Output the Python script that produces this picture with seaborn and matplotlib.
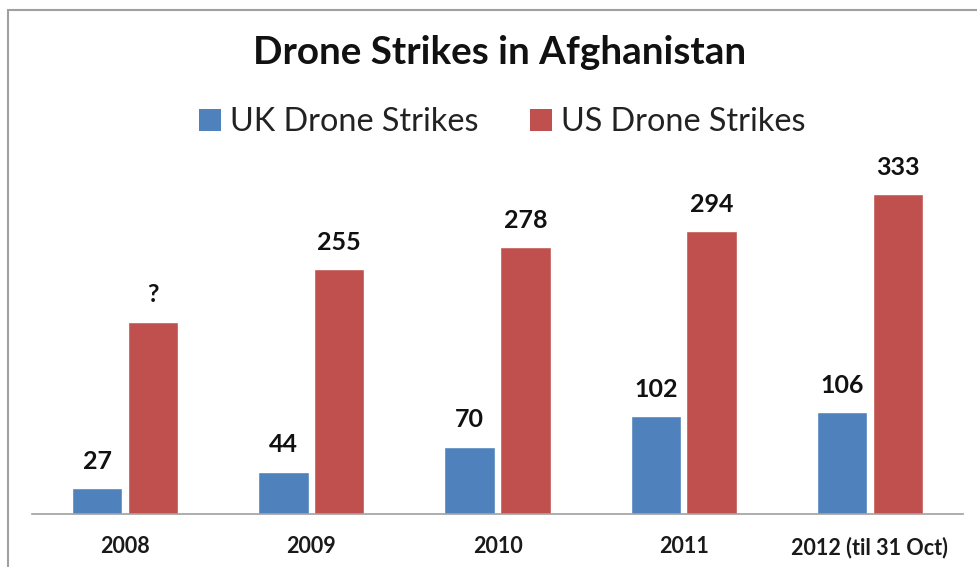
import matplotlib
matplotlib.use("Agg")
import matplotlib.pyplot as plt
import seaborn as sns
import pandas as pd
from matplotlib.patches import Rectangle, Patch

years = ["2008", "2009", "2010", "2011", "2012 (til 31 Oct)"]
uk_values = [27, 44, 70, 102, 106]
us_values = [200, 255, 278, 294, 333]
uk_labels = ["27", "44", "70", "102", "106"]
us_labels = ["?", "255", "278", "294", "333"]
series_names = ["UK Drone Strikes", "US Drone Strikes"]
colors = ["#4F81BD", "#C0504D"]

sns.set_theme(style="white")
plt.rcParams["font.family"] = ["Lato", "DejaVu Sans"]

df = pd.DataFrame({
    "year": years * 2,
    "value": uk_values + us_values,
    "series": [series_names[0]] * len(years) + [series_names[1]] * len(years),
})

fig = plt.figure(figsize=(9.78, 5.67), dpi=100)
W, H = 978, 567
ax = fig.add_axes([32 / W, (H - 514) / H, (963 - 32) / W, 346 / H])

sns.barplot(data=df, x="year", y="value", hue="series", palette=colors,
            width=0.6, gap=0.1, saturation=1, errorbar=None, legend=False, ax=ax)

ax.set_ylim(0, 360)
ax.set_xlim(-0.5, 4.5)
ax.set_xlabel("")
ax.set_ylabel("")
ax.set_yticks([])
for s in ["top", "right", "left"]:
    ax.spines[s].set_visible(False)
ax.spines["bottom"].set_color("#A0A0A0")
ax.spines["bottom"].set_linewidth(1.2)
ax.tick_params(axis="x", length=0, pad=16, labelsize=15.5)
for t in ax.get_xticklabels():
    t.set_fontweight("bold")
    t.set_color("#1a1a1a")

for cont, labs in zip(ax.containers, [uk_labels, us_labels]):
    ax.bar_label(cont, labels=labs, padding=11, fontsize=18, fontweight="bold", color="#111111")

fig.text(500 / W, 1 - 53 / H, "Drone Strikes in Afghanistan", ha="center", va="center",
         fontsize=27.8, fontweight="bold", color="#111111")

handles = [Patch(facecolor=c, edgecolor="none") for c in colors]
fig.legend(handles, series_names, loc="center", bbox_to_anchor=(502 / W, 1 - 122 / H),
           ncol=2, frameon=False, fontsize=23.3, handlelength=0.68, handleheight=0.68,
           handletextpad=0.28, columnspacing=1.6, labelcolor="#222222")

fig.patches.append(Rectangle((8 / W, -0.5), 2, 0.5 + (H - 10) / H, transform=fig.transFigure,
                             facecolor="none", edgecolor="#A0A0A0", linewidth=1.5))

fig.savefig("out.png", dpi=100)
